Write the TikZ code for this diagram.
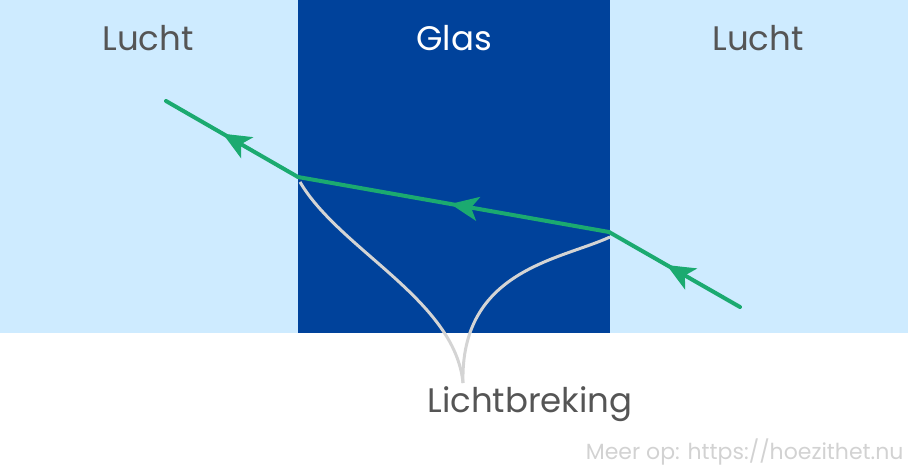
\documentclass[tikz,border=0pt]{standalone}
\usepackage{fontspec}
\setmainfont{Poppins}
\usetikzlibrary{arrows.meta,decorations.markings}

\definecolor{lucht}{RGB}{206,235,255}
\definecolor{glas}{RGB}{0,66,155}
\definecolor{straal}{RGB}{27,170,112}
\definecolor{tekst}{RGB}{85,85,85}
\definecolor{lijn}{RGB}{212,212,212}
\definecolor{voet}{RGB}{210,210,210}

\begin{document}
\begin{tikzpicture}[
  x=1pt, y=-1pt,
  label/.style={text=tekst, font=\fontsize{34}{40}\selectfont},
  ray/.style={draw=straal, line width=4pt, line cap=round, postaction={decorate},
    decoration={markings, mark=at position #1 with {\arrow{Stealth[length=28pt,width=24pt,inset=7pt]}}}},
  breking/.style={draw=lijn, line width=3pt}
]
\useasboundingbox (0,0) rectangle (908,466);
% vlakken
\fill[lucht] (0,0) rectangle (908,333);
\fill[glas] (298,0) rectangle (610,333);

\node[label] (lucht1) at (148,38) {Lucht};
\node[label, text=white] (glas) at (454,38) {Glas};
\node[label] (lucht2) at (758,38) {Lucht};

% lichtstraal
\coordinate (in) at (740,307);
\coordinate (rechts) at (609,232);
\coordinate (links) at (298,177);
\coordinate (uit) at (166,101);
\draw[ray=0.56] (in) -- (rechts);
\draw[ray=0.51] (rechts) -- (links);
\draw[ray=0.57] (links) -- (uit);

% breking
\node[label] (breking) at (530,404) {Lichtbreking};
\coordinate (samen) at (463,383);
\draw[breking] ([shift={(2,5)}]links) .. controls (340,250) and (455,300) .. (samen);
\draw[breking] ([shift={(1,5)}]rechts) .. controls (560,260) and (460,270) .. (samen);

\node[text=voet, font=\fontsize{22}{26}\selectfont, anchor=east] (bron) at (907,452) {Meer op: https://hoezithet.nu};
\end{tikzpicture}
\end{document}
